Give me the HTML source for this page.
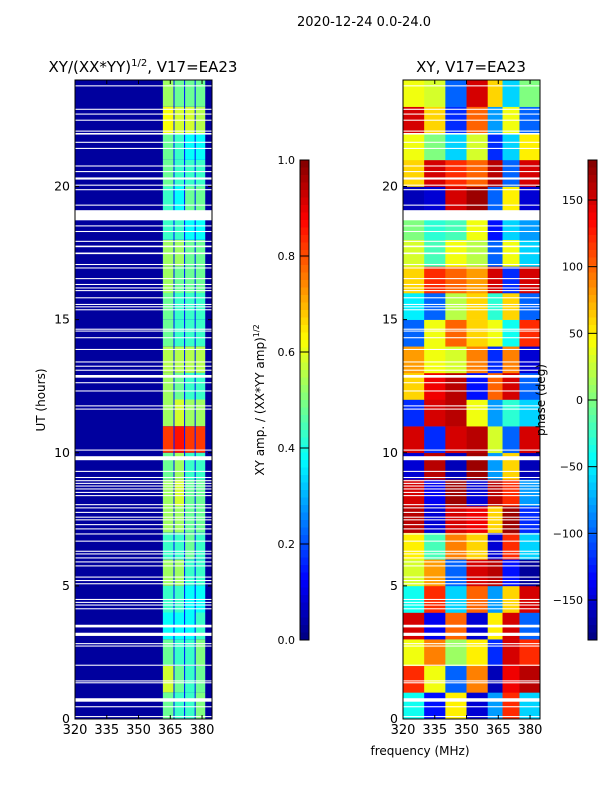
<!DOCTYPE html>
<html><head><meta charset="utf-8">
<style>
html,body{margin:0;padding:0;background:#fff;width:600px;height:800px;overflow:hidden}
svg{display:block;font-family:"DejaVu Sans","Liberation Sans",sans-serif}
</style></head>
<body>
<svg id="fig" width="600" height="800" viewBox="0 0 600 800" xmlns="http://www.w3.org/2000/svg">
<rect width="600" height="800" fill="#fff"/>
<text x="364" y="26" font-size="13" text-anchor="middle">2020-12-24 0.0-24.0</text>
<text x="143" y="72" font-size="15" text-anchor="middle">XY/(XX*YY)<tspan font-size="10" dy="-6">1/2</tspan><tspan dy="6">, V17=EA23</tspan></text>
<text x="471" y="72" font-size="15" text-anchor="middle">XY, V17=EA23</text>
<g id="left"></g>
<g id="right"></g>
<g id="axes"></g>
</svg>
<script>
// ---- data ----
const freqTicks = [320, 335, 350, 365, 380];
const timeTicks = [0, 5, 10, 15, 20];
const ampTicks = [0.0, 0.2, 0.4, 0.6, 0.8, 1.0];
const phaseTicks = [-150, -100, -50, 0, 50, 100, 150];
// amplitude sub-bands (MHz)
const ampBandLo = [361.5, 367, 372, 377];
const ampBandHi = [366.5, 371.5, 376.5, 381.5];
const ampBackground = 0.03;
const ampGap = 0.15;
// amplitude per hour (index 0 = 0-1 UT) for 4 sub-bands
const ampHourly = [
 [0.48,0.43,0.43,0.50],[0.58,0.48,0.43,0.48],[0.48,0.43,0.43,0.50],[0.38,0.38,0.38,0.43],
 [0.43,0.43,0.38,0.38],[0.53,0.53,0.43,0.43],[0.43,0.43,0.48,0.43],[0.53,0.53,0.48,0.48],
 [0.53,0.58,0.48,0.48],[0.48,0.53,0.43,0.43],[0.82,0.86,0.82,0.82],[0.53,0.58,0.53,0.53],
 [0.53,0.48,0.43,0.43],[0.55,0.55,0.55,0.55],[0.48,0.43,0.43,0.43],[0.48,0.43,0.43,0.43],
 [0.53,0.48,0.48,0.48],[0.53,0.53,0.48,0.48],[0.43,0.43,0.38,0.38],[0.43,0.38,0.48,0.48],
 [0.48,0.43,0.43,0.43],[0.48,0.43,0.38,0.38],[0.62,0.58,0.58,0.55],[0.53,0.48,0.48,0.48]
];
// phase blocks (MHz)
const phaseBandLo = [320, 330, 340, 350, 360, 367, 375];
const phaseBandHi = [330, 340, 350, 360, 367, 375, 385];
// phase per hour (deg), index 0 = 0-1 UT
const phaseHourly = [
 [-40,-130,50,-150,-80,120,-60],
 [120,40,-100,90,-160,140,160],
 [40,90,10,50,-120,150,120],
 [150,-140,100,-150,50,150,-100],
 [-40,120,-60,100,-80,60,150],
 [30,80,-100,150,160,-130,-170],
 [50,-20,90,60,-150,120,-60],
 [160,-150,150,140,60,170,-120],
 [150,-140,170,-150,160,120,-80],
 [-150,160,-160,170,-80,60,-160],
 [150,-120,150,160,30,-100,150],
 [-120,150,160,40,-80,-30,-60],
 [60,140,160,-130,100,150,-100],
 [80,40,30,90,-120,90,-150],
 [-100,40,100,60,40,-40,120],
 [-50,-100,20,60,-30,60,-100],
 [60,120,100,80,150,-120,150],
 [30,-20,40,20,-100,40,-60],
 [0,-30,-20,40,-130,-60,-80],
 [-160,-150,150,170,-100,50,-150],
 [60,150,120,100,160,-100,150],
 [40,0,-60,30,-120,-60,50],
 [150,60,-120,100,-80,40,-100],
 [40,30,-100,150,60,-60,0]
];
// flagged time ranges (hours)
const flagStart = [0.07,0.44,0.65,1.34,1.41,2.00,2.72,2.81,3.12,3.44,4.12,4.26,4.36,4.47,5.06,5.18,5.31,5.73,5.88,6.03,6.18,6.28,6.66,6.93,7.12,7.28,7.46,7.56,7.74,7.91,8.03,8.37,8.49,8.62,8.73,8.83,8.93,9.05,9.28,9.72,10.08,11.62,11.74,12.30,12.61,12.82,13.08,13.23,13.39,13.86,14.30,14.55,14.62,15.35,15.46,15.55,15.80,16.07,16.17,16.30,16.52,16.92,17.05,17.46,17.72,17.92,18.29,18.50,18.73,19.28,19.86,20.03,20.26,20.54,20.75,21.41,21.64,21.95,22.06,22.47,22.70,22.88,23.76];
const flagEnd   = [0.11,0.48,0.78,1.38,1.45,2.04,2.76,2.85,3.24,3.54,4.16,4.30,4.40,4.51,5.10,5.22,5.35,5.77,5.92,6.07,6.22,6.32,6.70,6.97,7.16,7.32,7.50,7.60,7.78,7.95,8.07,8.41,8.53,8.66,8.77,8.87,8.97,9.09,9.32,9.87,10.12,11.66,11.78,12.34,12.65,12.92,13.12,13.27,13.43,13.90,14.34,14.59,14.66,15.39,15.50,15.59,15.84,16.11,16.21,16.34,16.56,16.96,17.09,17.52,17.78,17.96,18.33,18.54,19.11,19.32,19.90,20.07,20.34,20.58,20.79,21.45,21.68,22.01,22.10,22.51,22.74,22.92,23.80];

// ---- helpers ----
const NS = "http://www.w3.org/2000/svg";
const FMIN = 320, FMAX = 384.7, TMIN = 0, TMAX = 24;
const Y0 = 719, Y1 = 80;
const yT = t => Y0 - (t - TMIN) / (TMAX - TMIN) * (Y0 - Y1);
function xF(x0, x1) { return f => x0 + (f - FMIN) / (FMAX - FMIN) * (x1 - x0); }
function jet(v) {
  v = Math.max(0, Math.min(1, v));
  const c = x => Math.round(255 * Math.max(0, Math.min(1, x)));
  return `rgb(${c(1.5 - Math.abs(4 * v - 3))},${c(1.5 - Math.abs(4 * v - 2))},${c(1.5 - Math.abs(4 * v - 1))})`;
}
function mk(tag, attrs, parent) {
  const e = document.createElementNS(NS, tag);
  for (const k in attrs) e.setAttribute(k, attrs[k]);
  parent.appendChild(e);
  return e;
}
const axes = document.getElementById('axes');

// ---- left heatmap ----
const L = document.getElementById('left');
const xL = xF(75, 212);
let r = mk('rect', {x: 75, y: Y1, width: 137, height: Y0 - Y1, fill: jet(ampBackground)}, L);


for (let h = 0; h < ampHourly.length; h++) {
  const ya = yT(h + 1), yb = yT(h);
  r = mk('rect', {x: xL(ampBandLo[0]), y: ya, width: xL(ampBandHi[3]) - xL(ampBandLo[0]), height: yb - ya, fill: jet(ampGap)}, L);
  
  
  for (let b = 0; b < ampBandLo.length; b++) {
    r = mk('rect', {x: xL(ampBandLo[b]), y: ya, width: xL(ampBandHi[b]) - xL(ampBandLo[b]), height: yb - ya, fill: jet(ampHourly[h][b])}, L);
    
    
  }
}
// ---- right heatmap ----
const R = document.getElementById('right');
const xR = xF(403, 540);
for (let h = 0; h < phaseHourly.length; h++) {
  const ya = yT(h + 1), yb = yT(h);
  for (let b = 0; b < phaseBandLo.length; b++) {
    r = mk('rect', {x: xR(phaseBandLo[b]), y: ya, width: xR(Math.min(phaseBandHi[b], FMAX)) - xR(phaseBandLo[b]) + 0.3, height: yb - ya + 0.3, fill: jet((phaseHourly[h][b] + 180) / 360)}, R);
    
    
  }
}
// ---- flags ----
for (let i = 0; i < flagStart.length; i++) {
  const ya = yT(flagEnd[i]), hgt = Math.max(1, yT(flagStart[i]) - yT(flagEnd[i]));
  r = mk('rect', {x: 75, y: ya, width: 137, height: hgt, fill: '#fff'}, L);
  
  
  r = mk('rect', {x: 403, y: ya, width: 137, height: hgt, fill: '#fff'}, R);
  
  
}

// ---- axes ----
function panelAxes(x0, x1, xs, name) {
  const g = mk('g', {}, axes);
  
  
  mk('rect', {x: x0, y: Y1, width: x1 - x0, height: Y0 - Y1, fill: 'none', stroke: '#000', 'stroke-width': 1}, g);
  freqTicks.forEach(f => {
    const x = xs(f);
    mk('line', {x1: x, x2: x, y1: Y0, y2: Y0 - 4, stroke: '#000'}, g);
    mk('line', {x1: x, x2: x, y1: Y1, y2: Y1 + 4, stroke: '#000'}, g);
    const t = mk('text', {x: x, y: Y0 + 15, 'font-size': 13, 'text-anchor': 'middle'}, g);
    t.textContent = f;
    
    
  });
  timeTicks.forEach(v => {
    const y = yT(v);
    mk('line', {x1: x0, x2: x0 + 4, y1: y, y2: y, stroke: '#000'}, g);
    mk('line', {x1: x1, x2: x1 - 4, y1: y, y2: y, stroke: '#000'}, g);
    const t = mk('text', {x: x0 - 5, y: y + 4, 'font-size': 12.5, 'text-anchor': 'end'}, g);
    t.textContent = v;
    
    
  });
}
panelAxes(75, 212, xL, 'left-axes');
panelAxes(403, 540, xR, 'right-axes');

// ---- colorbars ----
function colorbar(x, vals, vmin, vmax, fmt, name) {
  const g = mk('g', {}, axes);
  
  
  const top = 160, bot = 640, n = 64;
  for (let i = 0; i < n; i++) {
    mk('rect', {x: x, y: top + i * (bot - top) / n, width: 9, height: (bot - top) / n + 0.5, fill: jet(1 - (i + 0.5) / n)}, g);
  }
  mk('rect', {x: x, y: top, width: 9, height: bot - top, fill: 'none', stroke: '#000'}, g);
  vals.forEach(v => {
    const y = bot - (v - vmin) / (vmax - vmin) * (bot - top);
    mk('line', {x1: x, x2: x + 9, y1: y, y2: y, stroke: '#000'}, g);
    const t = mk('text', {x: x - 5, y: y + 4, 'font-size': 11, 'text-anchor': 'end'}, g);
    t.textContent = fmt(v);
    
    
  });
}
colorbar(300, ampTicks, 0, 1, v => v.toFixed(1), 'amplitude-colorbar');
colorbar(588, phaseTicks, -180, 180, v => String(v).replace('-', '\u2212'), 'phase-colorbar');

function label(txt, x, y, rot, name, size) {
  const t = mk('text', {x: x, y: y, 'font-size': size, 'text-anchor': 'middle', transform: rot ? `rotate(-90 ${x} ${y})` : ''}, axes);
  t.textContent = txt;
  
  
  return t;
}
label('UT (hours)', 45, 400, true, 'y-axis-title', 12);
label('frequency (MHz)', 420, 755, false, 'x-axis-title', 12);
const cb1 = label('', 264, 400, true, 'amplitude-colorbar-title', 12);
cb1.innerHTML = 'XY amp. / (XX*YY amp)<tspan font-size="8" dy="-5">1/2</tspan>';
label('phase (deg)', 545, 400, true, 'phase-colorbar-title', 12);
</script>
</body></html>
